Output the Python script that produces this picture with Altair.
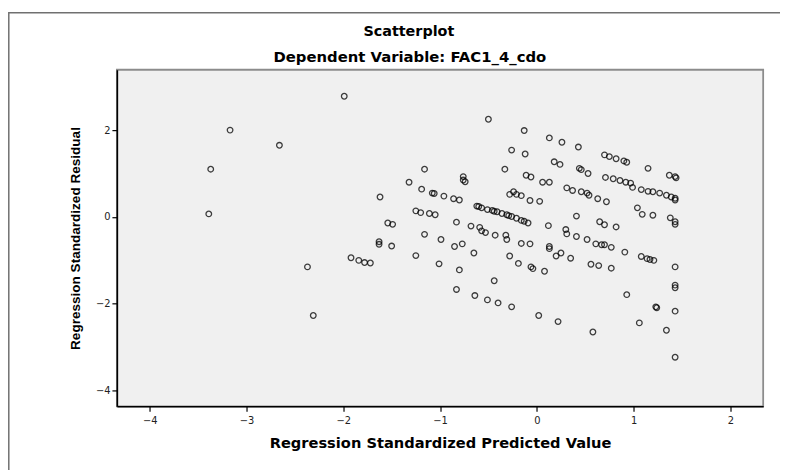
import altair as alt
import pandas as pd

pred = [
    -3.17, -2.66, -3.37, -3.39, -2.37, -2.31, -1.99, -0.50, -0.13, -0.26,
    -0.12, -0.33, -0.11, -0.06, -1.16, -1.32, -0.76, -0.76, -0.74, -1.19,
    -1.08, -1.06, -0.96, -0.86, -0.80, -1.62, -0.24, -0.28, -0.21, -0.16,
    -0.07, 0.03, -1.25, -1.20, -1.11, -1.05,
    -0.62, -0.57, -0.51, -0.46, -0.41, -0.36, -0.31, -0.26, -0.21, -0.16,
    -0.09, -0.60, -0.44, -0.29, -0.13,
    -1.54, -1.49, -0.83, -0.68, -0.59, -0.57, -0.53, -1.16, -0.43, -0.32,
    -0.31, -0.16, -0.07, -0.99, -1.63, -1.63, -1.50, -0.85, -0.77, -0.65,
    -1.25, -0.28, -1.92, -1.84, -1.78, -1.72, -1.01, -0.80, -0.44, -0.83,
    -0.64, -0.51, -0.40, -0.26, -0.19, -0.06, -0.04, 0.02, 0.22, 0.58,
    0.93, 1.06, 1.23, 1.24, 1.34, 1.43, 1.43, 1.43, 1.43, 1.43,
    0.08, 0.13, 0.13, 0.20, 0.25, 0.35, 0.56, 0.64, 0.77, 0.61,
    0.67, 0.70, 0.77, 0.91, 1.08, 1.14, 1.17, 1.21,
    0.13, 0.26, 0.18, 0.24, 0.06, 0.13, 0.31, 0.12, 0.30, 0.31,
    0.43, 0.70, 0.75, 0.82, 0.90, 0.93, 1.15, 1.37, 1.43, 1.44,
    0.44, 0.46, 0.53,
    0.71, 0.79, 0.86, 0.92, 0.97, 0.99, 1.08, 1.15, 1.20, 1.27,
    1.34, 1.39, 1.43, 1.43,
    0.37, 0.46, 0.52, 0.54, 0.63, 0.72, 1.04, 1.09, 1.20, 1.38,
    1.43, 1.43, 0.41, 0.65, 0.70, 0.82, 0.41, 0.52,
]
resid = [
    2.00, 1.65, 1.10, 0.07, -1.15, -2.27, 2.78, 2.25, 1.99, 1.54,
    1.45, 1.10, 0.96, 0.92, 1.10, 0.80, 0.93, 0.85, 0.81, 0.64,
    0.55, 0.54, 0.48, 0.42, 0.39, 0.46, 0.58, 0.52, 0.52, 0.49,
    0.38, 0.36, 0.14, 0.10, 0.08, 0.05,
    0.25, 0.21, 0.17, 0.15, 0.12, 0.08, 0.05, 0.01, -0.03, -0.08,
    -0.14, 0.24, 0.13, 0.03, -0.10,
    -0.14, -0.17, -0.12, -0.21, -0.24, -0.32, -0.36, -0.40, -0.42, -0.42,
    -0.52, -0.61, -0.62, -0.52, -0.57, -0.63, -0.67, -0.68, -0.62, -0.83,
    -0.89, -0.90, -0.94, -1.00, -1.05, -1.06, -1.08, -1.22, -1.47, -1.67,
    -1.81, -1.91, -1.98, -2.07, -1.07, -1.15, -1.19, -2.27, -2.41, -2.65,
    -1.79, -2.44, -2.07, -2.09, -2.61, -1.15, -1.57, -1.63, -2.17, -3.23,
    -1.25, -0.68, -0.73, -0.90, -0.83, -0.95, -1.09, -1.12, -1.18, -0.62,
    -0.64, -0.64, -0.70, -0.81, -0.91, -0.96, -0.98, -1.00,
    1.82, 1.72, 1.27, 1.21, 0.80, 0.80, 0.67, -0.20, -0.29, -0.39,
    1.61, 1.43, 1.39, 1.34, 1.29, 1.26, 1.12, 0.96, 0.93, 0.90,
    1.12, 1.09, 1.00,
    0.91, 0.88, 0.84, 0.80, 0.78, 0.68, 0.63, 0.59, 0.58, 0.55,
    0.50, 0.46, 0.43, 0.39,
    0.61, 0.58, 0.55, 0.50, 0.42, 0.35, 0.21, 0.06, 0.04, -0.02,
    -0.11, -0.17, 0.02, -0.11, -0.18, -0.23, -0.45, -0.52,
]

x_ticks = [-4, -3, -2, -1, 0, 1, 2]
y_ticks = [-4, -2, 0, 2]
title_text = "Scatterplot"
subtitle_text = "Dependent Variable: FAC1_4_cdo"

df = pd.DataFrame({"pred": pred, "resid": resid})

FONT = "Liberation Sans"
WIDE = "DejaVu Sans"

points = alt.Chart(df).mark_point(
    shape="circle", filled=False, size=32, strokeWidth=1.3,
    color="black", opacity=0.75
).encode(
    x=alt.X("pred:Q",
            scale=alt.Scale(domain=[-4.34, 2.34], nice=False, zero=False),
            axis=alt.Axis(values=x_ticks, format="d",
                          title="Regression Standardized Predicted Value",
                          titleFont=WIDE, titleFontSize=14.8,
                          labelPadding=4, titlePadding=11)),
    y=alt.Y("resid:Q",
            scale=alt.Scale(domain=[-4.36, 3.39], nice=False, zero=False),
            axis=alt.Axis(values=y_ticks, format="d",
                          title="Regression Standardized Residual",
                          titleFont=FONT, titleFontSize=13.7,
                          titlePadding=13)),
)

one = alt.Data(values=[{"k": 1}])

frame = alt.Chart(one).mark_rect(
    fill="transparent", stroke="#707070", strokeWidth=1.5
).encode(
    x=alt.value(-109.2), x2=alt.value(720), y=alt.value(-57.5), y2=alt.value(460)
)

title_mark = alt.Chart(one).mark_text(
    font=WIDE, fontSize=14.5, fontWeight="bold", color="black",
    align="center", baseline="middle"
).encode(
    x=alt.value(295), y=alt.value(-38), text=alt.value(title_text)
)

subtitle_mark = alt.Chart(one).mark_text(
    font=WIDE, fontSize=15, fontWeight="bold", color="black",
    align="center", baseline="middle"
).encode(
    x=alt.value(296), y=alt.value(-13), text=alt.value(subtitle_text)
)

chart = alt.layer(frame, points, title_mark, subtitle_mark).properties(
    width=653,
    height=340,
    autosize=alt.AutoSizeParams(type="none"),
    padding={"left": 110, "top": 60, "right": 17, "bottom": 62},
    background="white",
).configure_view(
    fill="#F0F0F0", stroke="#8C8C8C", strokeWidth=1.8
).configure_axis(
    grid=False,
    domainColor="black",
    domainWidth=1.6,
    tickColor="black",
    tickSize=5,
    tickWidth=1.2,
    labelFont=WIDE,
    labelFontSize=10,
    labelColor="#222222",
    labelPadding=2,
    titleFontWeight="bold",
    titleColor="black",
)

chart.save("out.html", embed_options={"renderer": "svg", "actions": False})
